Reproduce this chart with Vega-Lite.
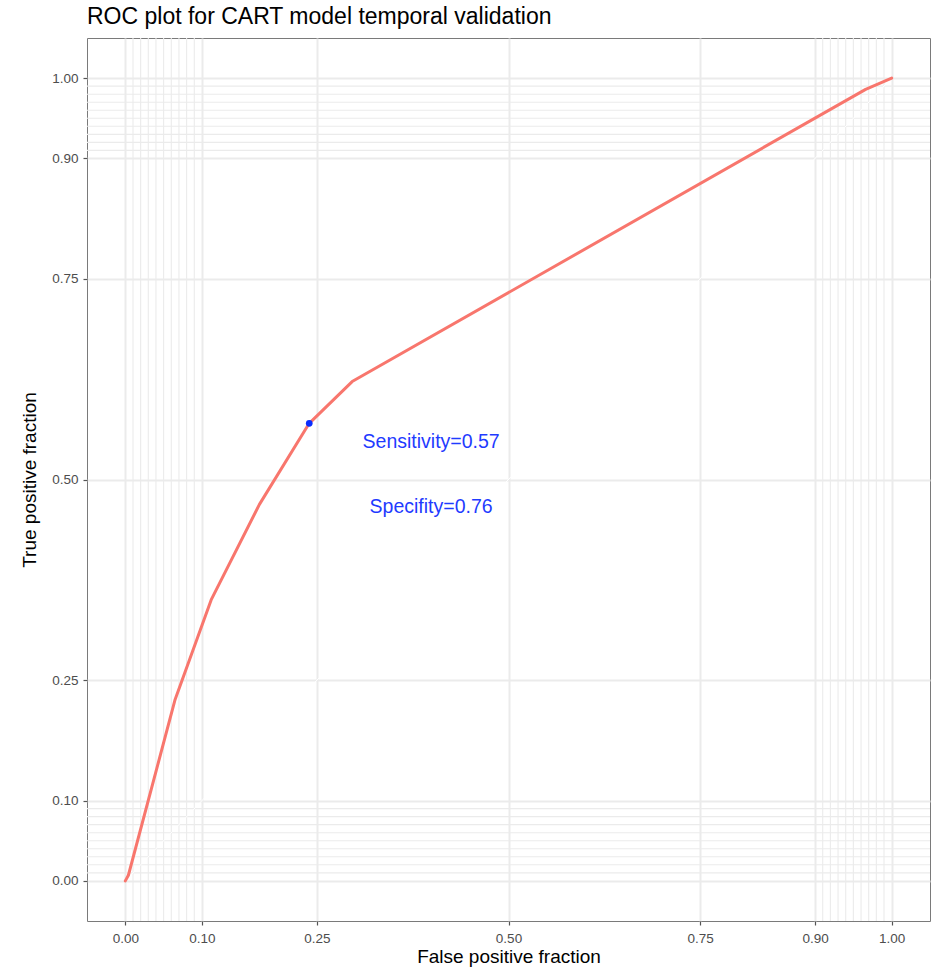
{
  "$schema": "https://vega.github.io/schema/vega-lite/v6.json",
  "width": 843,
  "height": 883,
  "autosize": "none",
  "padding": {"left": 87, "top": 38, "right": 4, "bottom": 48},
  "background": "white",
  "config": {
    "font": "Liberation Sans",
    "view": {"stroke": "#7a7a7a", "strokeWidth": 1},
    "axis": {
      "domain": false,
      "grid": true,
      "gridColor": "#ebebeb",
      "gridWidth": 2,
      "tickColor": "#555555",
      "tickSize": 4,
      "tickWidth": 1.2,
      "labelColor": "#4d4d4d",
      "labelFontSize": 13.5,
      "labelFont": "Liberation Sans",
      "titleFont": "Liberation Sans",
      "titleFontSize": 19,
      "titleFontWeight": "normal",
      "titleColor": "black"
    }
  },
  "title": {
    "text": "ROC plot for CART model temporal validation",
    "anchor": "start",
    "frame": "group",
    "fontSize": 23,
    "fontWeight": "normal",
    "color": "black",
    "font": "Liberation Sans",
    "offset": 8
  },
  "datasets": {
    "roc": [
      {"fpf": 0.0, "tpf": 0.0},
      {"fpf": 0.004, "tpf": 0.007},
      {"fpf": 0.065, "tpf": 0.226},
      {"fpf": 0.112, "tpf": 0.35},
      {"fpf": 0.175, "tpf": 0.469},
      {"fpf": 0.24, "tpf": 0.57},
      {"fpf": 0.296, "tpf": 0.622},
      {"fpf": 0.966, "tpf": 0.986},
      {"fpf": 1.0, "tpf": 1.0}
    ],
    "minor": [
      {"v": 0.01}, {"v": 0.02}, {"v": 0.03}, {"v": 0.04}, {"v": 0.05},
      {"v": 0.06}, {"v": 0.07}, {"v": 0.08}, {"v": 0.09},
      {"v": 0.91}, {"v": 0.92}, {"v": 0.93}, {"v": 0.94}, {"v": 0.95},
      {"v": 0.96}, {"v": 0.97}, {"v": 0.98}, {"v": 0.99}
    ],
    "diag": [
      {"fpf": 0, "tpf": 0},
      {"fpf": 1, "tpf": 1}
    ],
    "cutoff": [
      {"fpf": 0.24, "tpf": 0.57}
    ],
    "notes": [
      {"fpf": 0.399, "tpf": 0.547, "label": "Sensitivity=0.57"},
      {"fpf": 0.399, "tpf": 0.466, "label": "Specifity=0.76"}
    ]
  },
  "layer": [
    {
      "data": {"name": "minor"},
      "mark": {"type": "rule", "color": "#ebebeb", "strokeWidth": 1.1},
      "encoding": {
        "x": {"field": "v", "type": "quantitative", "scale": {"domain": [-0.05, 1.05], "nice": false, "zero": false}}
      }
    },
    {
      "data": {"name": "minor"},
      "mark": {"type": "rule", "color": "#ebebeb", "strokeWidth": 1.1},
      "encoding": {
        "y": {"field": "v", "type": "quantitative", "scale": {"domain": [-0.05, 1.05], "nice": false, "zero": false}}
      }
    },
    {
      "data": {"name": "diag"},
      "mark": {"type": "line", "color": "white", "strokeWidth": 1},
      "encoding": {
        "x": {"field": "fpf", "type": "quantitative"},
        "y": {"field": "tpf", "type": "quantitative"}
      }
    },
    {
      "data": {"name": "roc"},
      "mark": {"type": "line", "color": "#F8766D", "strokeWidth": 3, "strokeJoin": "round", "strokeCap": "round"},
      "encoding": {
        "x": {
          "field": "fpf", "type": "quantitative",
          "scale": {"domain": [-0.05, 1.05], "nice": false, "zero": false},
          "axis": {
            "title": "False positive fraction",
            "values": [0, 0.1, 0.25, 0.5, 0.75, 0.9, 1],
            "format": ".2f",
            "labelPadding": 6,
            "titlePadding": 3
          }
        },
        "y": {
          "field": "tpf", "type": "quantitative",
          "scale": {"domain": [-0.05, 1.05], "nice": false, "zero": false},
          "axis": {
            "title": "True positive fraction",
            "values": [0, 0.1, 0.25, 0.5, 0.75, 0.9, 1],
            "format": ".2f",
            "labelPadding": 5,
            "titlePadding": 12
          }
        }
      }
    },
    {
      "data": {"name": "cutoff"},
      "mark": {"type": "point", "filled": true, "color": "#0a2dff", "size": 45, "opacity": 1},
      "encoding": {
        "x": {"field": "fpf", "type": "quantitative"},
        "y": {"field": "tpf", "type": "quantitative"}
      }
    },
    {
      "data": {"name": "notes"},
      "mark": {"type": "text", "color": "#1f3bff", "fontSize": 19.5, "font": "Liberation Sans", "align": "center", "baseline": "middle"},
      "encoding": {
        "x": {"field": "fpf", "type": "quantitative"},
        "y": {"field": "tpf", "type": "quantitative"},
        "text": {"field": "label"}
      }
    }
  ]
}
